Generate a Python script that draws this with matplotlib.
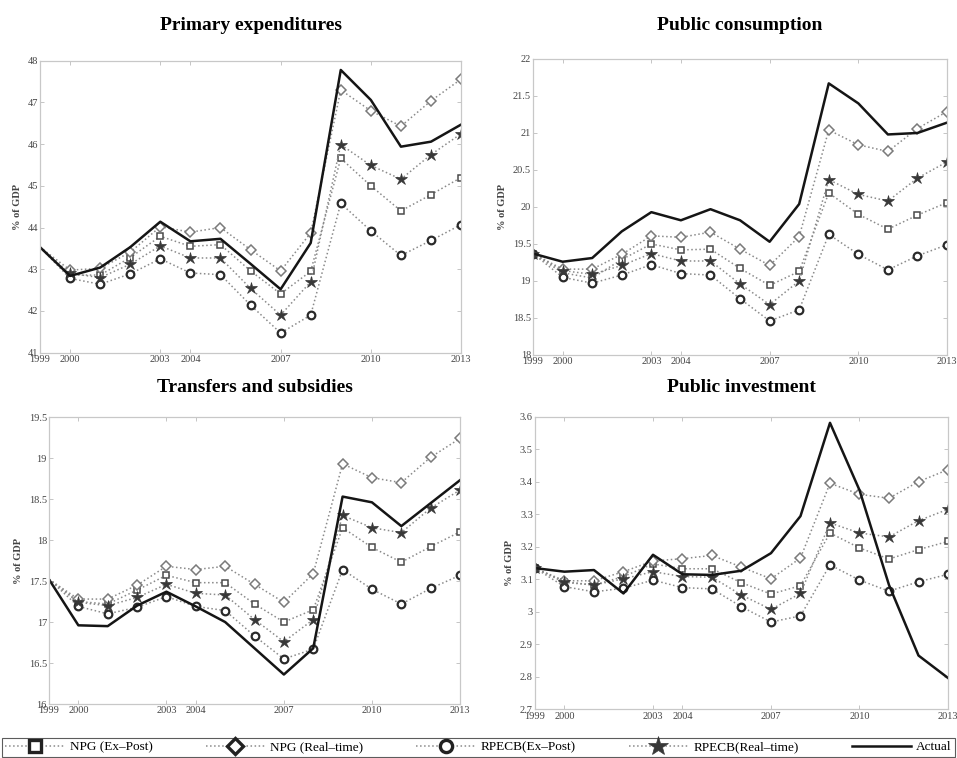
import matplotlib
matplotlib.use("Agg")
import matplotlib.pyplot as plt

plt.rcParams['font.family'] = ['Liberation Serif', 'DejaVu Serif']

years = list(range(1999, 2014))
xticks = [1999, 2000, 2003, 2004, 2007, 2010, 2013]

# Primary expenditures
pe_npg_ep = [43.53, 42.86, 42.86, 43.28, 43.79, 43.55, 43.59, 42.96, 42.41, 42.95, 45.66, 45.00, 44.40, 44.79, 45.20]
pe_npg_rt = [43.53, 42.98, 43.02, 43.41, 44.02, 43.89, 44.00, 43.47, 42.96, 43.87, 47.30, 46.80, 46.43, 47.04, 47.56]
pe_rpecb_ep = [43.53, 42.78, 42.64, 42.89, 43.25, 42.91, 42.87, 42.14, 41.47, 41.90, 44.58, 43.92, 43.33, 43.69, 44.07]
pe_rpecb_rt = [43.53, 42.90, 42.80, 43.12, 43.56, 43.27, 43.27, 42.54, 41.90, 42.70, 45.99, 45.49, 45.16, 45.75, 46.25]
pe_actual = [43.53, 42.84, 43.04, 43.53, 44.14, 43.67, 43.73, 43.13, 42.52, 43.63, 47.78, 47.06, 45.94, 46.06, 46.47]

# Public consumption
pc_npg_ep = [19.37, 19.11, 19.04, 19.29, 19.50, 19.42, 19.43, 19.17, 18.94, 19.13, 20.19, 19.90, 19.70, 19.89, 20.06]
pc_npg_rt = [19.37, 19.16, 19.16, 19.36, 19.61, 19.59, 19.66, 19.43, 19.21, 19.60, 21.04, 20.84, 20.75, 21.06, 21.29]
pc_rpecb_ep = [19.37, 19.05, 18.97, 19.08, 19.22, 19.10, 19.08, 18.76, 18.46, 18.61, 19.63, 19.36, 19.15, 19.34, 19.49]
pc_rpecb_rt = [19.37, 19.14, 19.09, 19.21, 19.37, 19.27, 19.27, 18.96, 18.68, 19.00, 20.37, 20.17, 20.08, 20.39, 20.61]
pc_actual = [19.37, 19.26, 19.31, 19.67, 19.93, 19.82, 19.97, 19.82, 19.53, 20.04, 21.67, 21.40, 20.98, 21.00, 21.14]

# Transfers and subsidies
ts_npg_ep = [17.52, 17.25, 17.22, 17.39, 17.57, 17.48, 17.48, 17.22, 17.00, 17.15, 18.15, 17.91, 17.73, 17.92, 18.10]
ts_npg_rt = [17.52, 17.28, 17.28, 17.45, 17.68, 17.64, 17.68, 17.46, 17.24, 17.59, 18.93, 18.76, 18.70, 19.01, 19.24]
ts_rpecb_ep = [17.52, 17.19, 17.10, 17.18, 17.31, 17.19, 17.14, 16.83, 16.55, 16.67, 17.64, 17.40, 17.22, 17.41, 17.57]
ts_rpecb_rt = [17.52, 17.24, 17.20, 17.30, 17.46, 17.35, 17.33, 17.03, 16.76, 17.03, 18.30, 18.15, 18.09, 18.39, 18.61]
ts_actual = [17.52, 16.96, 16.95, 17.20, 17.37, 17.19, 17.00, 16.68, 16.36, 16.68, 18.53, 18.46, 18.17, 18.45, 18.73]

# Public investment
pi_npg_ep = [3.135, 3.091, 3.083, 3.109, 3.148, 3.133, 3.133, 3.090, 3.055, 3.081, 3.243, 3.197, 3.163, 3.192, 3.217]
pi_npg_rt = [3.135, 3.096, 3.096, 3.124, 3.157, 3.164, 3.174, 3.138, 3.102, 3.166, 3.396, 3.362, 3.350, 3.401, 3.438]
pi_rpecb_ep = [3.135, 3.078, 3.062, 3.073, 3.098, 3.075, 3.071, 3.016, 2.969, 2.988, 3.145, 3.098, 3.064, 3.093, 3.116]
pi_rpecb_rt = [3.135, 3.093, 3.083, 3.102, 3.124, 3.109, 3.107, 3.052, 3.008, 3.057, 3.274, 3.243, 3.231, 3.281, 3.316]
pi_actual = [3.135, 3.124, 3.129, 3.057, 3.176, 3.116, 3.114, 3.127, 3.181, 3.295, 3.582, 3.375, 3.083, 2.866, 2.797]

titles = ["Primary expenditures", "Public consumption", "Transfers and subsidies", "Public investment"]
ylims = [(41, 48), (18, 22), (16, 19.5), (2.7, 3.6)]
ysteps = [1, 0.5, 0.5, 0.1]
title_pads = [22, 21, 18, 18]
# first marker hidden on the left panels (the reference shows none at 1999 there)
mark_from = [1, 0, 1, 0]
positions = [
    [0.0418, 0.5348, 0.440, 0.385],
    [0.557, 0.5317, 0.4326, 0.3905],
    [0.0512, 0.0712, 0.4295, 0.3786],
    [0.559, 0.064, 0.4316, 0.3859],
]
panels = [
    (pe_npg_ep, pe_npg_rt, pe_rpecb_ep, pe_rpecb_rt, pe_actual),
    (pc_npg_ep, pc_npg_rt, pc_rpecb_ep, pc_rpecb_rt, pc_actual),
    (ts_npg_ep, ts_npg_rt, ts_rpecb_ep, ts_rpecb_rt, ts_actual),
    (pi_npg_ep, pi_npg_rt, pi_rpecb_ep, pi_rpecb_rt, pi_actual),
]

dot = dict(linestyle=':', color='#8a8a8a', linewidth=1.1)
fig = plt.figure(figsize=(9.57, 7.58), dpi=100)

for i in range(4):
    ax = fig.add_axes(positions[i])
    npg_ep, npg_rt, rp_ep, rp_rt, actual = panels[i]
    me = slice(mark_from[i], None)
    ax.plot(years, npg_ep, marker='s', markersize=5, mfc='white', mec='#4a4a4a', mew=1.1,
            markevery=me, label='NPG (Ex\u2013Post)', **dot)
    ax.plot(years, npg_rt, marker='D', markersize=5, mfc='white', mec='#7a7a7a', mew=1.1,
            markevery=me, label='NPG (Real\u2013time)', **dot)
    ax.plot(years, rp_ep, marker='o', markersize=5.5, mfc='white', mec='#2a2a2a', mew=1.6,
            markevery=me, label='RPECB(Ex\u2013Post)', **dot)
    ax.plot(years, rp_rt, marker='*', markersize=9, mfc='#383838', mec='#383838', mew=0.5,
            markevery=me, label='RPECB(Real\u2013time)', **dot)
    ax.plot(years, actual, color='#151515', linewidth=1.8, label='Actual')

    lo, hi = ylims[i]
    ax.set_xlim(1999, 2013)
    ax.set_ylim(lo, hi)
    n = int(round((hi - lo) / ysteps[i]))
    yt = [round(lo + k * ysteps[i], 2) for k in range(n + 1)]
    ax.set_yticks(yt)
    ax.set_yticklabels(['%g' % v for v in yt])
    ax.set_xticks(xticks)
    ax.tick_params(direction='in', length=3, width=0.6, colors='#bbbbbb',
                   labelcolor='#444444', labelsize=7.5, top=True, right=True, pad=1.5)
    for s in ax.spines.values():
        s.set_color('#c8c8c8')
        s.set_linewidth(0.9)
    ax.set_ylabel('% of GDP', fontsize=7.5, fontweight='bold', color='#444444', labelpad=4)
    ax.set_title(titles[i], fontsize=14, fontweight='bold', pad=title_pads[i])

handles, labels = ax.get_legend_handles_labels()
leg = fig.legend(handles, labels, loc='lower center', bbox_to_anchor=(0.5, 0.0), ncol=5,
                 fontsize=9.5, frameon=True, fancybox=False, edgecolor='#333333',
                 handlelength=4.5, columnspacing=4.0, handletextpad=0.4, markerscale=1.6,
                 borderpad=0.25, borderaxespad=0.1)
leg.get_frame().set_linewidth(0.8)
# bolder marker outlines in the legend, as in the original
for h in leg.legend_handles[:3]:
    h.set_markeredgewidth(2.4)
    h.set_markeredgecolor('#222222')

fig.savefig('out.png', dpi=100)
